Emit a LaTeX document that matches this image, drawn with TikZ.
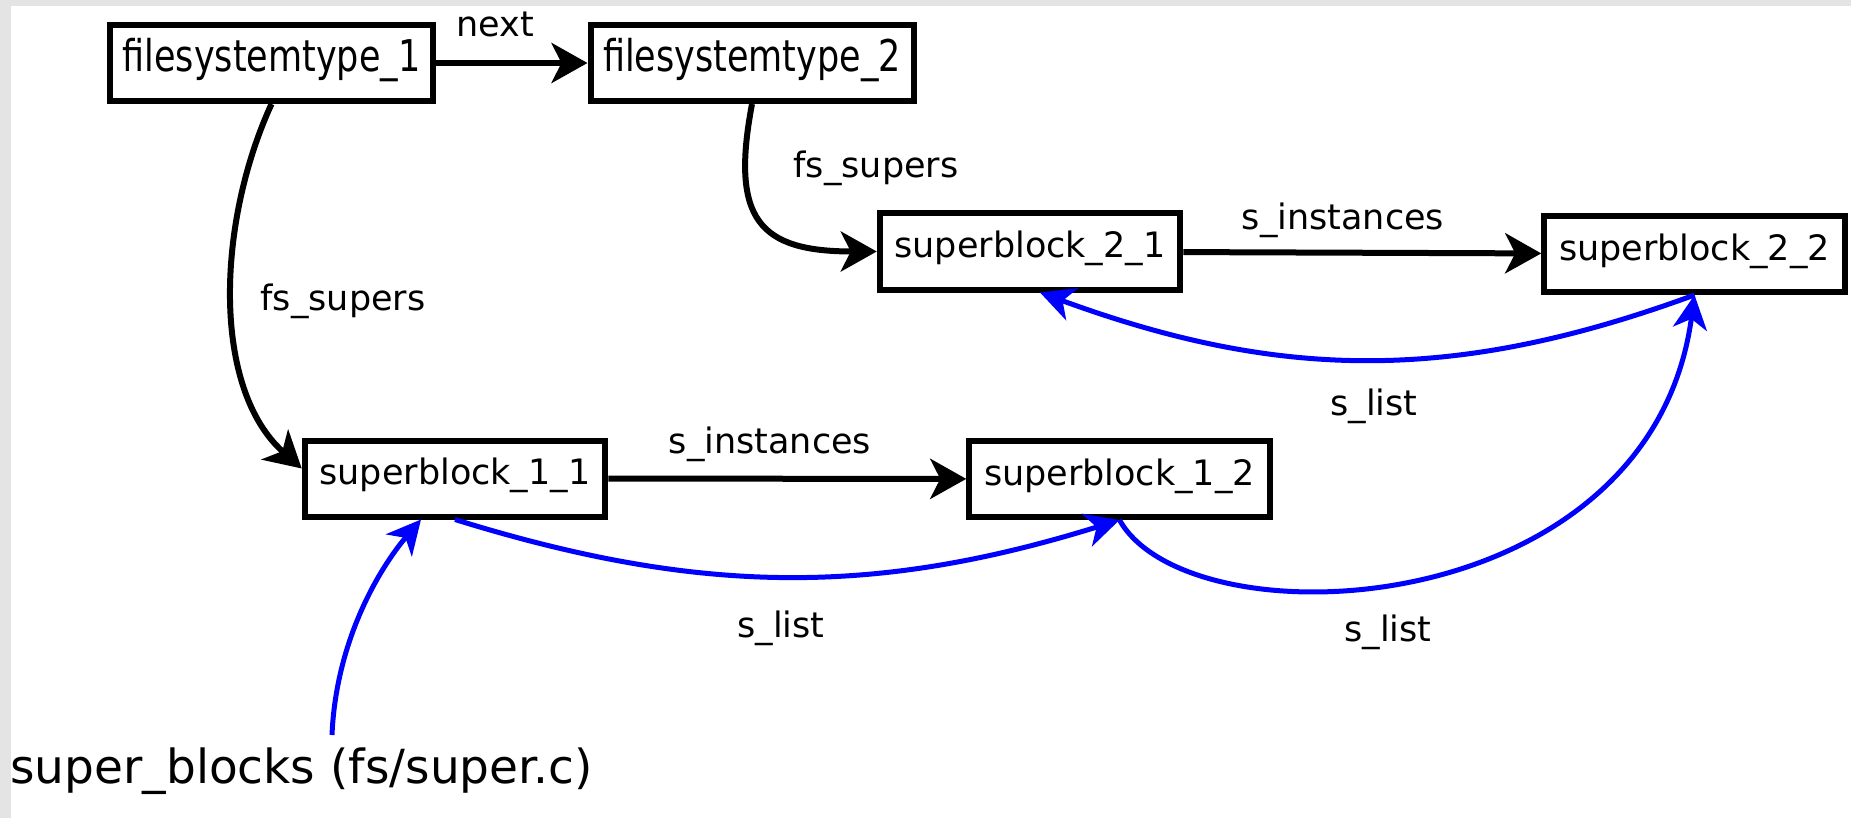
\documentclass[tikz,border=0pt]{standalone}
\usepackage{fontspec}
\usepackage{graphicx}
\setmainfont{DejaVu Sans}
\usetikzlibrary{arrows.meta}
\definecolor{framegray}{RGB}{228,228,228}
\definecolor{lnblue}{RGB}{0,0,255}
\begin{document}
\begin{tikzpicture}[x=0.5pt,y=-0.5pt,
  fsbox/.style={draw=black, line width=3pt, fill=white, rectangle, inner sep=0pt,
    minimum width=161.5pt, minimum height=38pt, text height=8.5pt, text depth=0pt,
    font=\fontsize{17.5}{20}\selectfont},
  sbbox/.style={draw=black, line width=3pt, fill=white, rectangle, inner sep=0pt,
    minimum width=150.25pt, minimum height=38pt, text height=6pt, text depth=0pt,
    font=\fontsize{17.5}{20}\selectfont},
  lbl/.style={inner sep=0pt, anchor=base, font=\fontsize{17.5}{20}\selectfont},
  biglbl/.style={inner sep=0pt, anchor=base west, font=\fontsize{23.5}{28}\selectfont},
  blk/.style={draw=black, line width=3pt, -{Stealth[length=18pt,width=20pt,inset=5pt]}},
  blu/.style={draw=lnblue, line width=2.5pt, -{Stealth[length=17pt,width=17pt,inset=5pt]}}
]
\useasboundingbox (0,0) rectangle (1851,818);
\fill[white] (0,0) rectangle (1851,818);
\fill[framegray] (0,0) rectangle (1851,6);
\fill[framegray] (0,0) rectangle (11,818);

% boxes
\node[fsbox] (fs1) at (271.5,63) {\scalebox{1}[1.25]{filesystemtype\_1}};
\node[fsbox] (fs2) at (752,63) {\scalebox{1}[1.25]{filesystemtype\_2}};
\node[sbbox] (sb21) at (1030,251.5) {superblock\_2\_1};
\node[sbbox] (sb22) at (1694.5,254) {superblock\_2\_2};
\node[sbbox] (sb11) at (455,478.5) {superblock\_1\_1};
\node[sbbox] (sb12) at (1119.5,479) {superblock\_1\_2};

% labels
\node[lbl] (lnext) at (495,37) {next};
\node[lbl] (lfsa) at (343,310) {fs\_supers};
\node[lbl] (lfsb) at (876,178) {fs\_supers};
\node[lbl] (lsib) at (1343,229) {s\_instances};
\node[lbl] (lsia) at (770,453) {s\_instances};
\node[lbl] (lslb) at (1374,415) {s\_list};
\node[lbl] (lsla) at (781,637) {s\_list};
\node[lbl] (lslc) at (1388,641) {s\_list};
\node[biglbl] (sbl) at (10,783) {super\_blocks (fs/super.c)};
\coordinate (sbref) at (332,735);

% black connectors
\draw[blk] (fs1) -- (fs2);
\draw[blk] (sb21) -- (sb22);
\draw[blk] (sb11) -- (sb12);
\draw[blk] (fs1.south) .. controls +(-55,120) and +(-90,-80) .. ([yshift=5pt]sb11.west);
\draw[blk] (fs2.south) .. controls +(-22,116) and +(-117,0) .. (sb21.west);

% blue connectors
\draw[blu] (sb22.south) .. controls +(-240,88) and +(240,88) .. ([xshift=5pt]sb21.south);
\draw[blu] (sb11.south) .. controls +(245,76) and +(-245,76) .. (sb12.south);
\draw[blu] (sb12.south) .. controls +(70,125) and +(-44.5,330) .. (sb22.south);
\draw[blu] (sbref) .. controls +(4,-95) and +(-41,48) .. ([xshift=-17pt]sb11.south);
\end{tikzpicture}
\end{document}
